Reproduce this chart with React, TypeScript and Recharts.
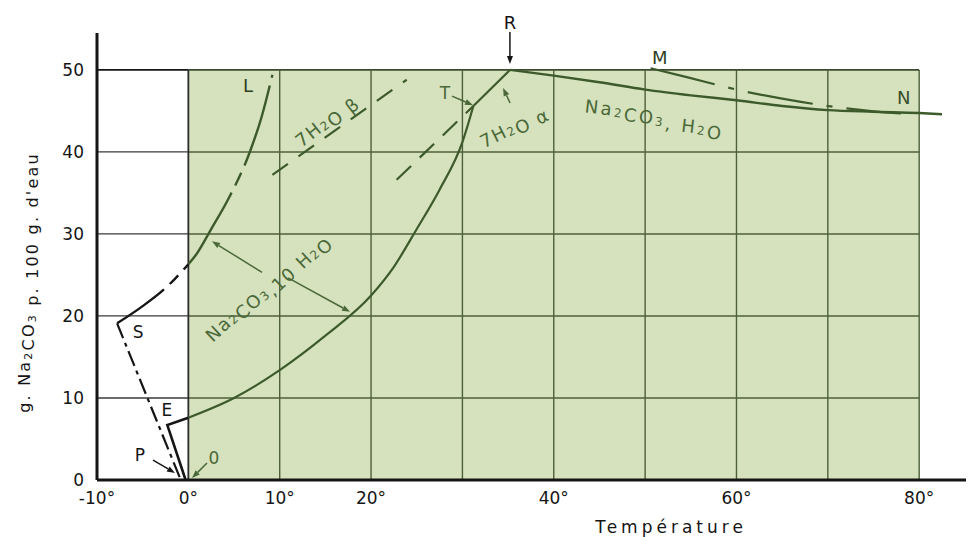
import type { ReactNode } from 'react'
import {
  LineChart,
  Line,
  XAxis,
  YAxis,
  ReferenceArea,
  ReferenceLine,
  ReferenceDot,
} from 'recharts'

// axes
const xTicks = [-10, 0, 10, 20, 40, 60, 80]
const yTicks = [0, 10, 20, 30, 40, 50]
const gridXs = [0, 10, 20, 30, 40, 50, 60, 70, 80]
const gridYs = [10, 20, 30, 40, 50]

// Na2CO3,10H2O solubility, from 0° up to T
const decaX = [0, 5, 10, 15, 20, 22.5, 25, 27.5, 30, 31.2]
const decaY = [7.6, 10, 13.4, 17.6, 22.5, 26, 30.6, 35.4, 41.2, 45.6]
// 7H2O alpha, T -> R
const alphaX = [31.2, 35.2]
const alphaY = [45.6, 50]
// Na2CO3,H2O, R -> N
const monoX = [35.2, 40, 45, 50, 55, 60, 65, 70, 75, 80, 82.5]
const monoY = [50, 49.3, 48.5, 47.6, 46.9, 46.3, 45.6, 45.1, 44.9, 44.75, 44.6]
// metastable branch from M
const metaX = [50.6, 55, 57.8, 60, 65, 70, 75, 78]
const metaY = [50.2, 49.0, 48.2, 47.6, 46.5, 45.6, 44.95, 44.7]
// ice side: O -> E -> 0°
const iceEX = [-0.3, -2.3, 0]
const iceEY = [0, 6.7, 7.6]
// S -> L curve (black below 0°, green above)
const slLeftX = [-7.8, -5, -2.5, 0]
const slLeftY = [19.1, 21.2, 23.4, 26.3]
const slRightX = [0, 0.8, 2.5, 4.3, 6.8, 8, 9.2]
const slRightY = [26.3, 27.4, 30.6, 34.1, 40.2, 44.2, 49.4]
// S -> P
const spX = [-7.8, -0.9]
const spY = [19.1, 0.2]
// 7H2O beta (metastable)
const betaX = [9.2, 23.9]
const betaY = [37.2, 48.8]
// 7H2O alpha metastable extension
const alphaMetaX = [22.8, 31.2]
const alphaMetaY = [36.6, 45.6]

const GREEN_FILL = '#d5e2bd'
const GRID_GREEN = '#4d5f3b'
const CURVE_GREEN = '#3d5a2b'
const LABEL_GREEN = '#4a6838'
const INK = '#151515'
const FONT = 'DejaVu Sans'

const pts = (xs: number[], ys: number[]) => xs.map((x, i) => ({ x, y: ys[i] }))

// "Na_2CO_3" -> Na<sub>2</sub>CO<sub>3</sub>
function chem(s: string, sub: number): ReactNode[] {
  const out: ReactNode[] = []
  let buf = ''
  let k = 0
  for (let i = 0; i < s.length; i++) {
    if (s[i] === '_' && i + 1 < s.length) {
      if (buf) out.push(<tspan key={k++}>{buf}</tspan>)
      buf = ''
      out.push(
        <tspan key={k++} fontSize={sub} dy={4}>
          {s[i + 1]}
        </tspan>
      )
      out.push(<tspan key={k++} dy={-4}>{''}</tspan>)
      i++
    } else {
      buf += s[i]
    }
  }
  if (buf) out.push(<tspan key={k++}>{buf}</tspan>)
  return out
}

interface TextOpts {
  angle?: number
  size?: number
  fill?: string
  spacing?: number
  dx?: number
  dy?: number
}

function textShape(content: string, o: TextOpts = {}) {
  const { angle = 0, size = 18, fill = INK, spacing = 0, dx = 0, dy = 0 } = o
  return (p: any) => {
    const x = p.cx + dx
    const y = p.cy + dy
    return (
      <text
        x={x}
        y={y}
        textAnchor="middle"
        dominantBaseline="central"
        fontSize={size}
        fontFamily={FONT}
        fill={fill}
        letterSpacing={spacing}
        transform={angle ? `rotate(${angle} ${x} ${y})` : undefined}
      >
        {chem(content, Math.round(size * 0.68))}
      </text>
    )
  }
}

// arrow whose tip sits on the anchor point, tail at (tx, ty) px from it
function arrowShape(tx: number, ty: number, color: string, offX = 0, offY = 0) {
  return (p: any) => {
    const cx = p.cx + offX
    const cy = p.cy + offY
    const len = Math.hypot(tx, ty)
    const ux = -tx / len
    const uy = -ty / len
    const hl = 8
    const hw = 3
    const bx = cx - ux * hl
    const by = cy - uy * hl
    const head = `${cx},${cy} ${bx - uy * hw},${by + ux * hw} ${bx + uy * hw},${by - ux * hw}`
    return (
      <g>
        <line x1={cx + tx} y1={cy + ty} x2={bx} y2={by} stroke={color} strokeWidth={1.5} />
        <polygon points={head} fill={color} />
      </g>
    )
  }
}

function YTitle(props: any) {
  const vb = props.viewBox || { x: 29, y: 25, height: 447 }
  const x = vb.x - 13
  const y = vb.y + vb.height / 2 + 26
  return (
    <text
      x={x}
      y={y}
      textAnchor="middle"
      dominantBaseline="central"
      fontSize={16}
      fontFamily={FONT}
      fill={INK}
      letterSpacing={2.2}
      transform={`rotate(-90 ${x} ${y})`}
    >
      {chem("g. Na_2CO_3 p. 100 g. d'eau", 11)}
    </text>
  )
}

function XTitle(props: any) {
  const vb = props.viewBox || { x: 89, y: 472 }
  return (
    <text
      x={vb.x + 574}
      y={vb.y + 47}
      textAnchor="middle"
      dominantBaseline="central"
      fontSize={17}
      fontFamily={FONT}
      fill={INK}
      letterSpacing={4}
    >
      Température
    </text>
  )
}

const dot = (x: number, y: number, shape: (p: any) => any, key: string) => (
  <ReferenceDot key={key} x={x} y={y} r={0} fill="none" stroke="none" shape={shape} />
)

export default function App() {
  return (
    <div style={{ width: 966, height: 529, fontFamily: FONT }}>
      <LineChart
        width={966}
        height={529}
        margin={{ top: 25, right: 0, bottom: 27, left: 29 }}
      >
        <XAxis
          type="number"
          dataKey="x"
          domain={[-10, 86]}
          ticks={xTicks}
          tickFormatter={(v) => `${v}°`}
          tick={{ fontSize: 17, fill: INK, fontFamily: FONT }}
          tickLine={false}
          tickSize={6}
          tickMargin={6}
          axisLine={{ stroke: INK, strokeWidth: 3 }}
          height={30}
          allowDuplicatedCategory={false}
          label={<XTitle />}
        />
        <YAxis
          type="number"
          dataKey="y"
          domain={[0, 54.5]}
          ticks={yTicks}
          tick={{ fontSize: 17, fill: INK, fontFamily: FONT }}
          tickLine={false}
          tickSize={6}
          tickMargin={7}
          axisLine={{ stroke: INK, strokeWidth: 3 }}
          width={60}
          label={<YTitle />}
        />

        <ReferenceArea x1={0} x2={80} y1={0} y2={50} fill={GREEN_FILL} fillOpacity={1} stroke="none" />

        {gridYs.map((y) => (
          <ReferenceLine
            key={`hl${y}`}
            segment={[{ x: -10, y }, { x: 0, y }]}
            stroke={y === 50 ? INK : '#3a3a3a'}
            strokeWidth={y === 50 ? 1.8 : 1.3}
          />
        ))}
        {gridYs.map((y) => (
          <ReferenceLine
            key={`hr${y}`}
            segment={[{ x: 0, y }, { x: 80, y }]}
            stroke={y === 50 ? '#3e4a30' : GRID_GREEN}
            strokeWidth={y === 50 ? 1.8 : 1.4}
          />
        ))}
        {gridXs.map((x) => (
          <ReferenceLine
            key={`v${x}`}
            segment={[{ x, y: 0 }, { x, y: 50 }]}
            stroke={x === 0 ? '#2a2a2a' : GRID_GREEN}
            strokeWidth={x === 0 ? 1.8 : 1.4}
          />
        ))}

        <Line data={pts(iceEX, iceEY)} dataKey="y" type="linear" stroke={INK} strokeWidth={2.6} dot={false} activeDot={false} isAnimationActive={false} />
        <Line data={pts(spX, spY)} dataKey="y" type="linear" stroke={INK} strokeWidth={2.2} strokeDasharray="16 5 4 5" dot={false} activeDot={false} isAnimationActive={false} />
        <Line data={pts(slLeftX, slLeftY)} dataKey="y" type="monotone" stroke={INK} strokeWidth={2.4} strokeDasharray="58 8 12 8" dot={false} activeDot={false} isAnimationActive={false} />
        <Line data={pts(slRightX, slRightY)} dataKey="y" type="monotone" stroke={CURVE_GREEN} strokeWidth={2.4} strokeDasharray="84 8 14 8" dot={false} activeDot={false} isAnimationActive={false} />
        <Line data={pts(decaX, decaY)} dataKey="y" type="monotone" stroke={CURVE_GREEN} strokeWidth={2.2} dot={false} activeDot={false} isAnimationActive={false} />
        <Line data={pts(alphaX, alphaY)} dataKey="y" type="linear" stroke={CURVE_GREEN} strokeWidth={2.2} dot={false} activeDot={false} isAnimationActive={false} />
        <Line data={pts(monoX, monoY)} dataKey="y" type="monotone" stroke={CURVE_GREEN} strokeWidth={2.4} dot={false} activeDot={false} isAnimationActive={false} />
        <Line data={pts(metaX, metaY)} dataKey="y" type="monotone" stroke={CURVE_GREEN} strokeWidth={2.2} strokeDasharray="66 14 6 14" dot={false} activeDot={false} isAnimationActive={false} />
        <Line data={pts(betaX, betaY)} dataKey="y" type="linear" stroke={CURVE_GREEN} strokeWidth={2.2} strokeDasharray="19 13" dot={false} activeDot={false} isAnimationActive={false} />
        <Line data={pts(alphaMetaX, alphaMetaY)} dataKey="y" type="linear" stroke={CURVE_GREEN} strokeWidth={2.2} strokeDasharray="20 12" dot={false} activeDot={false} isAnimationActive={false} />

        {dot(6.53, 48.2, textShape('L', { size: 18, fill: '#2f3f22' }), 'L')}
        {dot(35.2, 50, textShape('R', { size: 18, dy: -48 }), 'R')}
        {dot(35.2, 50, arrowShape(0, -32, INK, 0, -6), 'Ra')}
        {dot(51.6, 51.6, textShape('M', { size: 18, fill: '#2f3f22' }), 'M')}
        {dot(78.3, 46.7, textShape('N', { size: 18, fill: '#3a4e2a' }), 'N')}
        {dot(28.1, 47.2, textShape('T', { size: 17, fill: LABEL_GREEN }), 'T')}
        {dot(31.16, 45.7, arrowShape(-21, -9, LABEL_GREEN), 'Ta')}
        {dot(-5.5, 18.05, textShape('S', { size: 17 }), 'S')}
        {dot(-2.34, 8.54, textShape('E', { size: 17 }), 'E')}
        {dot(-5.3, 3.05, textShape('P', { size: 17 }), 'P')}
        {dot(-1.46, 0.85, arrowShape(-22, -13, INK), 'Pa')}
        {dot(2.81, 2.68, textShape('0', { size: 17, fill: LABEL_GREEN }), 'O')}
        {dot(0.4, 0.24, arrowShape(15, -15, LABEL_GREEN), 'Oa')}
        {dot(34.45, 47.8, arrowShape(7, 15, LABEL_GREEN), 'Aa')}
        {dot(2.59, 29.1, arrowShape(50, 31, LABEL_GREEN), 'Da1')}
        {dot(17.7, 20.5, arrowShape(-62, -34, LABEL_GREEN), 'Da2')}

        {dot(8.39, 23.8, textShape('Na_2CO_3,10 H_2O', { size: 18, fill: LABEL_GREEN, angle: -43, spacing: 1.5 }), 'deca')}
        {dot(15.07, 43.9, textShape('7H_2O β', { size: 18, fill: LABEL_GREEN, angle: -38, spacing: 1.5 }), 'beta')}
        {dot(35.6, 43.2, textShape('7H_2O α', { size: 18, fill: LABEL_GREEN, angle: -27, spacing: 1.5 }), 'alpha')}
        {dot(51.08, 44.7, textShape('Na_2CO_3, H_2O', { size: 18, fill: LABEL_GREEN, angle: 6.5, spacing: 2.5 }), 'mono')}
      </LineChart>
    </div>
  )
}
